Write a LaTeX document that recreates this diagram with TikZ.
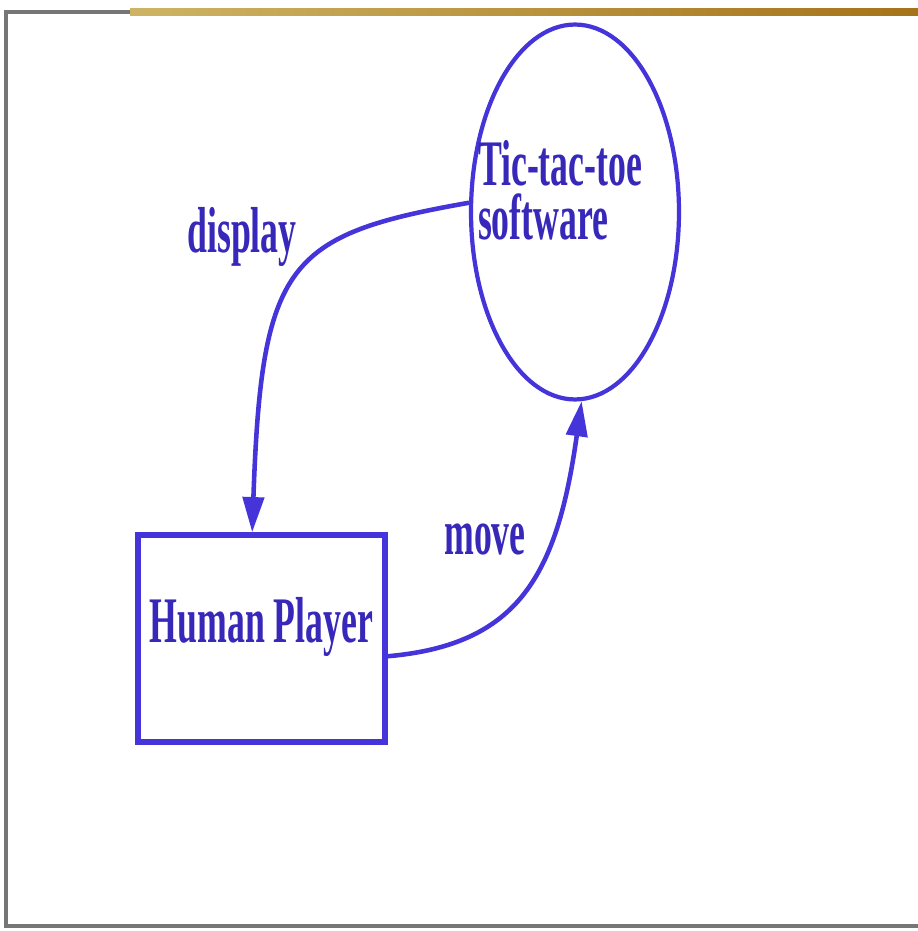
\documentclass[tikz,border=0pt]{standalone}
\usepackage{tikz}
\usepackage{fontspec}
\usetikzlibrary{shapes,arrows.meta,positioning}
\newfontfamily\diagfont[FakeStretch=0.55]{Liberation Serif}
\definecolor{inkblue}{RGB}{68,52,218}
\definecolor{textblue}{RGB}{56,40,185}
\definecolor{framegray}{RGB}{118,118,118}
\definecolor{barlight}{RGB}{205,180,100}
\definecolor{bardark}{RGB}{165,115,25}

\begin{document}
\begin{tikzpicture}[x=0.02cm,y=0.02cm,->,>={Triangle[length=20pt,width=12pt]},
  line width=2.6pt]
  \tikzstyle{every node}=[font=\diagfont\bfseries\fontsize{37}{31}\selectfont,text=textblue]
  \tikzstyle{every edge}=[draw,inkblue]
  \tikzstyle{process}=[ellipse,draw=inkblue,line width=2.4pt,align=left,
    text width=3.88cm,text height=25pt,text depth=55.6pt,inner xsep=-16pt,
    minimum width=4.16cm,minimum height=7.5cm]
  \tikzstyle{actor}=[rectangle,draw=inkblue,line width=3.2pt,
    text height=25pt,text depth=20pt,
    minimum width=4.94cm,minimum height=4.14cm]

  % page frame
  \useasboundingbox (0,0) rectangle (918,931);
  \draw[-,framegray,line width=2pt] (918,5) -- (6,5) -- (6,919) -- (130,919);
  \shade[left color=barlight,right color=bardark] (130,915) rectangle (918,922);

  \node[process] (soft)   at (575,719)     {Tic-tac-toe\\software};
  \node[actor]   (player) at (261.5,292.5) {Human Player};

  \node (displaylbl) at (242,694) {display};
  \node (movelbl)    at (485,391) {move};

  \path
  (soft.175)   edge [out=190,in=88,out looseness=1.2,in looseness=1.75] (player.95)
  (player.352) edge [out=5,in=262,out looseness=1.05,in looseness=1.4] (soft.272)
  ;
\end{tikzpicture}
\end{document}
